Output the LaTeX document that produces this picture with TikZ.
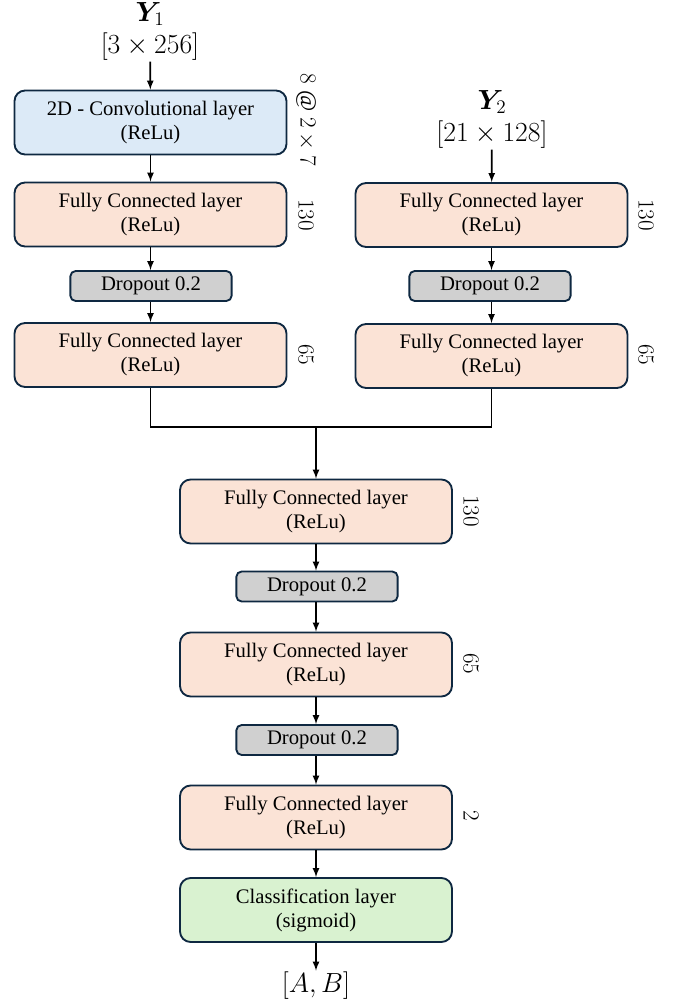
\documentclass[tikz,border=0pt]{standalone}
\usepackage{amsmath,bm}
\usepackage{fontspec}
\setmainfont{Liberation Serif}
\definecolor{boxline}{HTML}{0E2841}
\definecolor{convfill}{HTML}{DCEAF7}
\definecolor{fcfill}{HTML}{FBE3D6}
\definecolor{dropfill}{HTML}{D0D0D0}
\definecolor{clsfill}{HTML}{D9F2D0}

\begin{document}
\begin{tikzpicture}[x=0.75pt,y=-0.75pt,
  layer/.style={draw=boxline,line width=1.4pt,rounded corners=8pt,minimum width=204pt,minimum height=48pt,inner sep=0pt,align=center,font=\fontsize{15.5}{18}\selectfont},
  dropbox/.style={draw=boxline,line width=1.4pt,rounded corners=4pt,fill=dropfill,minimum width=121pt,minimum height=22.5pt,inner sep=0pt,font=\fontsize{15.5}{18}\selectfont},
  size/.style={rotate=-90,font=\fontsize{17.28}{20}\selectfont},
  inlabel/.style={align=center,inner sep=1pt,font=\fontsize{20.74}{24}\selectfont}]
\useasboundingbox (0,0) rectangle (678,1005);
% left branch
\node[inlabel] (y1) at (150,31) {$\bm{Y}_1$\\$[3\times256]$};
\node[layer,fill=convfill] (conv) at (150.5,122.5) {2D - Convolutional layer\\(ReLu)};
\node[layer,fill=fcfill] (fc1L) at (150.5,214.5) {Fully Connected layer\\(ReLu)};
\node[dropbox] (dropL) at (151,286) {Dropout 0.2};
\node[layer,fill=fcfill] (fc2L) at (150.5,355) {Fully Connected layer\\(ReLu)};
\node[size] (sconv) at (306,120) {$8\ @\ 2\times7$};
\node[size] (s1L) at (306,215) {$130$};
\node[size] (s2L) at (306,355) {$65$};
% right branch
\node[inlabel] (y2) at (492,119) {$\bm{Y}_2$\\$[21\times128]$};
\node[layer,fill=fcfill] (fc1R) at (491.5,215) {Fully Connected layer\\(ReLu)};
\node[dropbox] (dropR) at (490,286) {Dropout 0.2};
\node[layer,fill=fcfill] (fc2R) at (491.5,356) {Fully Connected layer\\(ReLu)};
\node[size] (s1R) at (646,215) {$130$};
\node[size] (s2R) at (646,355) {$65$};
% merged part
\coordinate (merge) at (316,427);
\node[layer,fill=fcfill] (fc3) at (316,511.5) {Fully Connected layer\\(ReLu)};
\node[dropbox] (drop3) at (317,586.5) {Dropout 0.2};
\node[layer,fill=fcfill] (fc4) at (316,664.5) {Fully Connected layer\\(ReLu)};
\node[dropbox] (drop4) at (317,740) {Dropout 0.2};
\node[layer,fill=fcfill] (fc5) at (316,817.5) {Fully Connected layer\\(ReLu)};
\node[layer,fill=clsfill] (cls) at (316,910) {Classification layer\\(sigmoid)};
\node[inlabel] (out) at (316,986) {$[A,B]$};
\node[size] (s3) at (471,511) {$130$};
\node[size] (s4) at (471,664) {$65$};
\node[size] (s5) at (471,816) {$2$};
% connectors
\begin{scope}[line width=1.3pt,-latex]
\draw (y1) -- (conv);
\draw (conv) -- (fc1L);
\draw (fc1L) -- (dropL.north -| fc1L);
\draw (dropL.south -| fc2L) -- (fc2L);
\draw (y2) -- (fc1R);
\draw (fc1R) -- (dropR.north -| fc1R);
\draw (dropR.south -| fc2R) -- (fc2R);
\draw (merge) -- (fc3);
\draw (fc3) -- (drop3.north -| fc3);
\draw (drop3.south -| fc4) -- (fc4);
\draw (fc4) -- (drop4.north -| fc4);
\draw (drop4.south -| fc5) -- (fc5);
\draw (fc5) -- (cls);
\draw (cls) -- (out);
\end{scope}
\draw[line width=1.3pt] (fc2L) |- (merge) -| (fc2R);
\end{tikzpicture}
\end{document}
